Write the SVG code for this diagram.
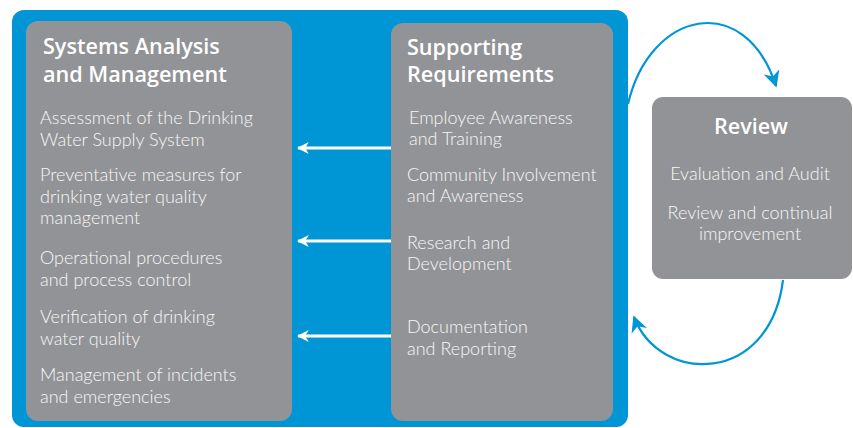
<svg xmlns="http://www.w3.org/2000/svg" width="853" height="428" viewBox="0 0 853 428">
  <defs>
    <style>
      .frame { fill: #0096d6; }
      .panel { fill: #929396; }
      .title { font-family: "Open Sans", Lato, sans-serif; font-weight: 600; font-size: 21.6px; fill: #ffffff; }
      .item { font-family: Lato, "Open Sans", sans-serif; font-weight: 300; font-size: 18px; fill: #f7f7f7; }
      .mid { text-anchor: middle; }
      .feed { fill: none; stroke: #ffffff; stroke-width: 3; }
      .cycle { fill: none; stroke: #0096d6; stroke-width: 2.2; }
    </style>
    <marker id="whiteHead" viewBox="0 0 10 10" refX="9" refY="5" markerWidth="4" markerHeight="4" orient="auto" markerUnits="strokeWidth">
      <path d="M0,0 L10,5 L0,10 L3,5 Z" fill="#ffffff"/>
    </marker>
    <marker id="blueHead" viewBox="0 0 10 10" refX="9" refY="5" markerWidth="7.5" markerHeight="7.5" orient="auto" markerUnits="strokeWidth">
      <path d="M0,0 L10,5 L0,10 L3,5 Z" fill="#0096d6"/>
    </marker>
  </defs>

  <!-- blue frame holding the two main panels -->
  <rect class="frame" x="12" y="10" width="616" height="417" rx="12"/>

  <g id="systems-analysis">
    <rect class="panel" x="26" y="21" width="266" height="400" rx="12"/>
    <text class="title" x="43" y="54">Systems Analysis</text>
    <text class="title" x="43" y="82">and Management</text>
    <text class="item" x="40" y="124">Assessment of the Drinking</text>
    <text class="item" x="40" y="146">Water Supply System</text>
    <text class="item" x="40" y="181">Preventative measures for</text>
    <text class="item" x="40" y="203">drinking water quality</text>
    <text class="item" x="40" y="224">management</text>
    <text class="item" x="40" y="264">Operational procedures</text>
    <text class="item" x="40" y="286">and process control</text>
    <text class="item" x="40" y="323">Verification of drinking</text>
    <text class="item" x="40" y="345">water quality</text>
    <text class="item" x="40" y="381">Management of incidents</text>
    <text class="item" x="40" y="403">and emergencies</text>
  </g>

  <g id="supporting-requirements">
    <rect class="panel" x="391" y="23" width="222" height="398" rx="12"/>
    <text class="title" x="407" y="55">Supporting</text>
    <text class="title" x="407" y="82">Requirements</text>
    <text class="item" x="409" y="124">Employee Awareness</text>
    <text class="item" x="409" y="145">and Training</text>
    <text class="item" x="407" y="181">Community Involvement</text>
    <text class="item" x="407" y="202">and Awareness</text>
    <text class="item" x="407" y="249">Research and</text>
    <text class="item" x="407" y="270">Development</text>
    <text class="item" x="407" y="333">Documentation</text>
    <text class="item" x="407" y="355">and Reporting</text>
  </g>

  <g id="review">
    <rect class="panel" x="652" y="97" width="200" height="182" rx="11"/>
    <text class="title mid" x="751" y="134">Review</text>
    <text class="item mid" x="750" y="180">Evaluation and Audit</text>
    <text class="item mid" x="750" y="219">Review and continual</text>
    <text class="item mid" x="750" y="240">improvement</text>
  </g>

  <g id="connectors">
    <line class="feed" x1="391" y1="148" x2="298" y2="148" marker-end="url(#whiteHead)"/>
    <line class="feed" x1="391" y1="241" x2="298" y2="241" marker-end="url(#whiteHead)"/>
    <line class="feed" x1="391" y1="336" x2="298" y2="336" marker-end="url(#whiteHead)"/>
    <path class="cycle" d="M628,104 C650,10 745,-10 776,86" marker-end="url(#blueHead)"/>
    <path class="cycle" d="M783,280 C770,385 660,385 634,317" marker-end="url(#blueHead)"/>
  </g>
</svg>
